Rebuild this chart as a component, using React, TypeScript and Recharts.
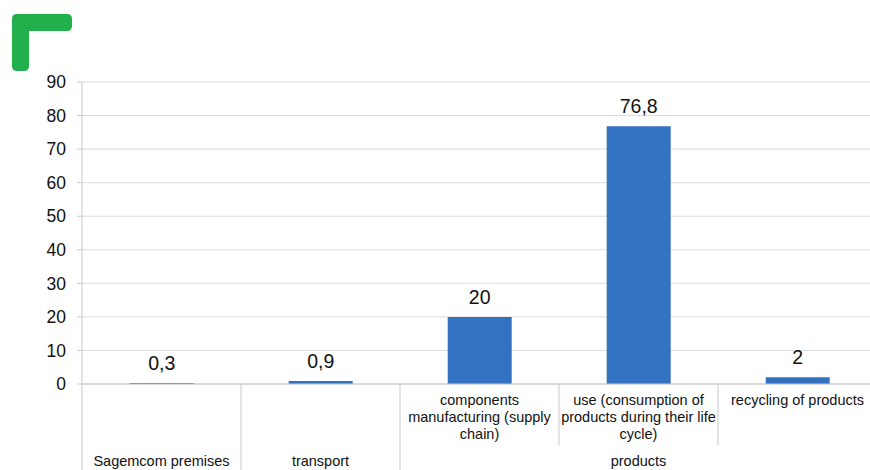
import React from 'react'
import { BarChart, Bar, XAxis, YAxis, CartesianGrid, LabelList, Text } from 'recharts'

const groupLabels = ['Sagemcom premises', 'transport', 'products', 'products', 'products']
const subLabels = [
  '',
  '',
  'components manufacturing (supply chain)',
  'use (consumption of products during their life cycle)',
  'recycling of products',
]
const values = [0.3, 0.9, 20, 76.8, 2]
const yTicks = [0, 10, 20, 30, 40, 50, 60, 70, 80, 90]

const data = values.map((v, i) => ({ name: subLabels[i] || groupLabels[i], value: v }))

const FONT = '"Liberation Sans", Arial, sans-serif'
const LINE = '#c9c9c9'
const TEXT = '#111'

function CategoryTick(props: any) {
  const { x, y, width, index, visibleTicksCount } = props
  const bw = width / visibleTicksCount
  const left = x - bw / 2
  const group = groupLabels[index]
  const first = groupLabels.indexOf(group)
  const last = groupLabels.lastIndexOf(group)
  const isGroupStart = index === first
  const sub = subLabels[index]
  return (
    <g>
      <line x1={left} x2={left} y1={y} y2={isGroupStart ? y + 90 : y + 61} stroke={LINE} strokeWidth={1} />
      {sub ? (
        <Text
          x={x}
          y={y + 11}
          width={bw + 4}
          textAnchor="middle"
          verticalAnchor="start"
          lineHeight={17}
          fontSize={14.5}
          fontFamily={FONT}
          fill={TEXT}
        >
          {sub}
        </Text>
      ) : null}
      {isGroupStart ? (
        <text
          x={x + ((first + last) / 2 - index) * bw}
          y={y + 82}
          textAnchor="middle"
          fontSize={14.5}
          fontFamily={FONT}
          fill={TEXT}
        >
          {group}
        </text>
      ) : null}
    </g>
  )
}

const fmt = (v: any) => String(v).replace('.', ',')

export default function App() {
  return (
    <div style={{ position: 'absolute', left: 0, top: 0, width: 870, height: 470, background: '#fff', overflow: 'hidden' }}>
      <svg width={80} height={80} style={{ position: 'absolute', left: 0, top: 0 }}>
        <path
          d="M17 14 H67 Q72 14 72 19 V26 Q72 31 67 31 H29 V66 Q29 71 24 71 H17 Q12 71 12 66 V19 Q12 14 17 14 Z"
          fill="#21b04b"
        />
      </svg>
      <BarChart
        width={870}
        height={470}
        data={data}
        margin={{ top: 82, right: -7, bottom: 0, left: 0 }}
        barCategoryGap="30%"
        style={{ position: 'absolute', left: 0, top: 0, fontFamily: FONT }}
      >
        <CartesianGrid vertical={false} stroke="#dcdcdc" />
        <XAxis
          dataKey="name"
          interval={0}
          height={86}
          tickLine={false}
          tickSize={0}
          tickMargin={0}
          axisLine={{ stroke: LINE }}
          tick={<CategoryTick />}
        />
        <YAxis
          domain={[0, 90]}
          ticks={yTicks}
          width={82}
          interval={0}
          tickSize={5}
          tickMargin={11}
          axisLine={{ stroke: LINE }}
          tickLine={{ stroke: LINE }}
          tick={{ fontSize: 17.5, fill: TEXT, fontFamily: FONT }}
        />
        <Bar dataKey="value" fill="#3371c1" isAnimationActive={false}>
          <LabelList
            dataKey="value"
            position="top"
            offset={13}
            formatter={fmt}
            style={{ fontSize: 19.5, fill: TEXT, fontFamily: FONT }}
          />
        </Bar>
      </BarChart>
    </div>
  )
}
